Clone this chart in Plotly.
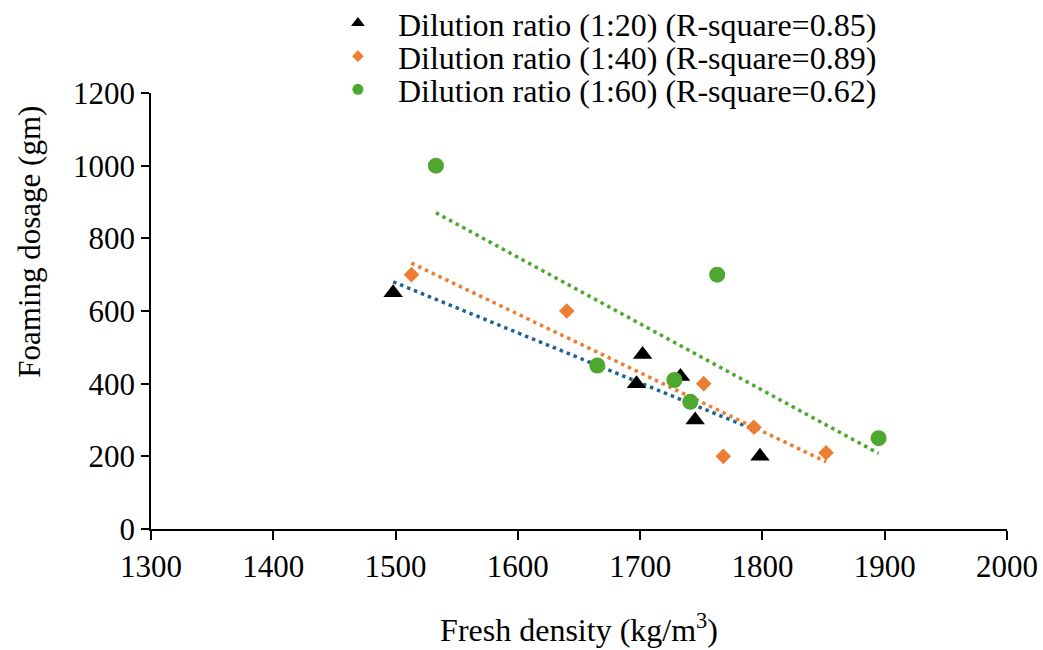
import numpy as np
import plotly.graph_objects as go

# Data
x_20 = [1498, 1702, 1733, 1697, 1745, 1798]
y_20 = [650, 480, 420, 400, 300, 200]

x_40 = [1513, 1640, 1752, 1793, 1768, 1852]
y_40 = [700, 600, 400, 280, 200, 210]

x_60 = [1533, 1763, 1665, 1728, 1741, 1895]
y_60 = [1000, 700, 450, 410, 350, 250]

names = ["Dilution ratio (1:20) (R-square=0.85)",
         "Dilution ratio (1:40) (R-square=0.89)",
         "Dilution ratio (1:60) (R-square=0.62)"]

x_ticks = [1300, 1400, 1500, 1600, 1700, 1800, 1900, 2000]
y_ticks = [0, 200, 400, 600, 800, 1000, 1200]

FONT = "Liberation Serif, Times New Roman, serif"

series = [
    (x_20, y_20, names[0], dict(symbol="triangle-up", size=17, lsize=12, color="black"), "#1F6391", "legend"),
    (x_40, y_40, names[1], dict(symbol="diamond", size=12, lsize=9, color="#ED7D31"), "#ED7D31", "legend2"),
    (x_60, y_60, names[2], dict(symbol="circle", size=16, lsize=11, color="#4EA72E"), "#4EA72E", "legend3"),
]

fig = go.Figure()

# trendlines first (under markers)
for xs, ys, nm, mk, lc, lg in series:
    xa = np.array(xs, dtype=float)
    ya = np.array(ys, dtype=float)
    k, b = np.polyfit(xa, ya, 1)
    xl = np.array([xa.min(), xa.max()])
    fig.add_trace(go.Scatter(x=xl, y=k * xl + b, mode="lines",
                             line=dict(color=lc, width=3.5, dash="3.5px,4px"),
                             showlegend=False, hoverinfo="skip"))

for xs, ys, nm, mk, lc, lg in series:
    fig.add_trace(go.Scatter(x=xs, y=ys, mode="markers", name=nm, showlegend=False,
                             marker=dict(symbol=mk["symbol"], size=mk["size"],
                                         color=mk["color"], line=dict(width=0))))
    # legend entry (smaller symbol, as in the reference)
    fig.add_trace(go.Scatter(x=[None], y=[None], mode="markers", name=nm, legend=lg,
                             marker=dict(symbol=mk["symbol"], size=mk["lsize"],
                                         color=mk["color"], line=dict(width=0))))

leg_common = dict(xref="paper", yref="paper", x=0.195, xanchor="left", yanchor="middle",
                  font=dict(family=FONT, size=32, color="black"),
                  bgcolor="rgba(0,0,0,0)", itemwidth=70, itemsizing="trace")

fig.update_layout(
    width=1043, height=650,
    paper_bgcolor="white", plot_bgcolor="white",
    margin=dict(l=151, r=36, t=93, b=121, autoexpand=False),
    font=dict(family=FONT, size=31, color="black"),
    legend=dict(leg_common, y=1.160),
    legend2=dict(leg_common, y=1.084),
    legend3=dict(leg_common, y=1.008),
    xaxis=dict(range=[1300, 2000], tickvals=x_ticks, ticktext=[str(v) for v in x_ticks],
               showgrid=False, zeroline=False, showline=True, linecolor="black",
               linewidth=1.5, ticks="outside", ticklen=9, tickcolor="black", tickwidth=1.5,
               tickangle=0,
               title=dict(text="Fresh density (kg/m<sup>3</sup>)", standoff=36,
                          font=dict(family=FONT, size=32)),
               tickfont=dict(family=FONT, size=31)),
    yaxis=dict(range=[0, 1200], tickvals=y_ticks, ticktext=[str(v) for v in y_ticks],
               showgrid=False, zeroline=False, showline=True, linecolor="black",
               linewidth=1.5, ticks="outside", ticklen=8, tickcolor="black", tickwidth=1.5,
               tickfont=dict(family=FONT, size=31)),
    annotations=[dict(text="Foaming dosage (gm)", xref="paper", yref="paper",
                      x=-0.142, y=0.66, xanchor="center", yanchor="middle",
                      textangle=-90, showarrow=False,
                      font=dict(family=FONT, size=31, color="black"))],
)

fig.write_html("out.html")
